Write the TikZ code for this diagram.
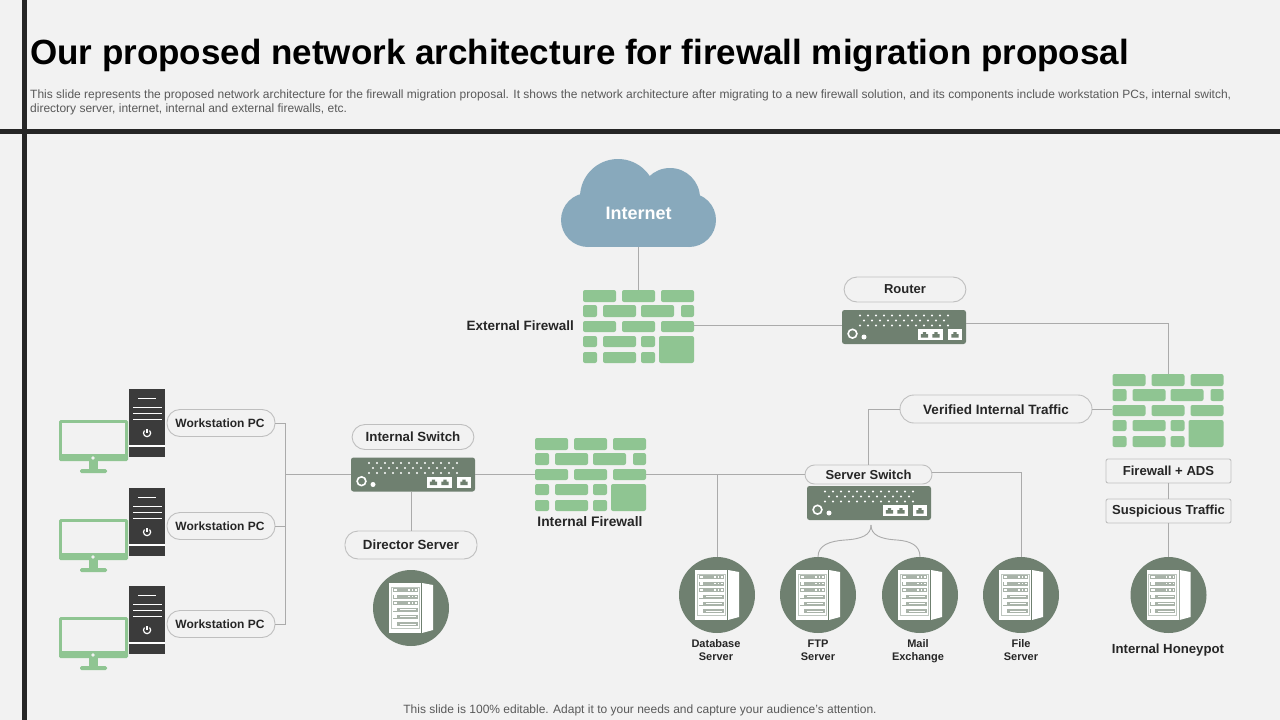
\documentclass[tikz,border=0pt]{standalone}
\usepackage{fontspec}
\setmainfont{Liberation Sans}
\usetikzlibrary{calc}
\definecolor{bgc}{HTML}{F2F2F2}
\definecolor{barc}{HTML}{262626}
\definecolor{wallg}{HTML}{8FC592}
\definecolor{swc}{HTML}{6F8070}
\definecolor{cloudc}{HTML}{88A9BC}
\definecolor{linec}{HTML}{ABABAB}
\definecolor{pillc}{HTML}{BFBFBF}
\definecolor{towerc}{HTML}{3B3B3B}
\definecolor{txtc}{HTML}{262626}
\definecolor{subc}{HTML}{595959}
\newcommand{\fsz}[1]{\fontsize{#1}{#1}\selectfont}
\newcommand{\brk}[4]{\fill[wallg,rounded corners=2pt] (#1,#2) rectangle (#3,#4);}
\tikzset{
  x=1pt,y=-1pt,
  conn/.style={draw=linec,line width=0.9pt},
  pill/.style={draw=pillc,fill=bgc,line width=0.9pt,rounded corners=13pt,font=\fsz{13.3}\bfseries,text=txtc,inner sep=0pt,anchor=center},
  tag/.style={draw=pillc,fill=bgc,line width=0.9pt,rounded corners=2pt,font=\fsz{13.1}\bfseries,text=txtc,inner sep=0pt,minimum width=125pt,minimum height=24pt},
  lbl/.style={font=\fsz{13.5}\bfseries,text=txtc,inner sep=0pt,align=center},
  lblsm/.style={font=\fsz{11}\bfseries,text=txtc,inner sep=0pt,align=center},
  firewall/.pic={
    \brk{0}{0}{33}{12}\brk{39}{0}{72}{12}\brk{78}{0}{111}{12}
    \brk{0}{15}{14}{27}\brk{20}{15}{53}{27}\brk{58}{15}{91}{27}\brk{98}{15}{111}{27}
    \brk{0}{31}{33}{42}\brk{39}{31}{72}{42}\brk{78}{31}{111}{42}
    \brk{0}{46}{14}{57}\brk{20}{46}{53}{57}\brk{58}{46}{72}{57}\brk{76}{46}{111}{73}
    \brk{0}{62}{14}{73}\brk{20}{62}{53}{73}\brk{58}{62}{72}{73}
    \node[inner sep=0pt,minimum width=111pt,minimum height=73pt] (-box) at (55.5,36.5) {};
  },
  netswitch/.pic={
    \node[fill=swc,rounded corners=2.5pt,inner sep=0pt,minimum width=124pt,minimum height=34pt] (-box) at (62,17) {};
    \foreach \i in {0,...,11} {
      \fill[white] (18+\i*8,5.5) circle (1.1);
      \fill[white] (18+\i*8,15.5) circle (1.1);
    }
    \foreach \i in {0,...,10} \fill[white] (22+\i*8,10.5) circle (1.1);
    \draw[white,line width=1.6pt] (10.5,23.7) circle (4.4);
    \fill[white] (22,27) circle (2.5);
    \fill[white] (76,19) rectangle (101,30);
    \fill[white] (106,19) rectangle (120,30);
    \foreach \p in {82.5,94,113} {
      \fill[swc] (\p-3.6,27.5) -- (\p-3.6,24) -- (\p-1.6,24) -- (\p-1.6,22) -- (\p+1.6,22) -- (\p+1.6,24) -- (\p+3.6,24) -- (\p+3.6,27.5) -- cycle;
    }
  },
  serverdisc/.pic={
    \node[circle,fill=swc,inner sep=0pt,minimum size=76pt] (-c) at (0,0) {};
    \fill[white] (-22,-25) rectangle (10,25);
    \fill[white] (11,-25) -- (22,-23) -- (22,22) -- (11,25) -- cycle;
    \fill[swc!45] (-20.5,-21.5) rectangle (8.5,20.5);
    \fill[white] (-19.5,-20.5) rectangle (7.5,19.5);
    \foreach \r in {-18,-11.5,-5,1.5,8.5,16} {
      \fill[swc!60] (-18.5,\r-2) rectangle (6.5,\r+2);
    }
    \foreach \r in {-18,-11.5,-5} {
      \fill[white] (-17.5,\r-1.2) rectangle (-14,\r+1.2);
      \foreach \d in {-2,1.5,5} \fill[white] (\d-0.9,\r-0.9) rectangle (\d+0.9,\r+0.9);
    }
    \foreach \r in {1.5,8.5,16} {
      \fill[white] (-18,\r-1.7) rectangle (-14,\r+1.7);
      \fill[white] (-11,\r-0.5) rectangle (5,\r+0.5);
    }
  },
  workstation/.pic={
    \fill[towerc] (0,0) rectangle (36,68);
    \draw[white,line width=0.9pt] (9,9) -- (27,9);
    \draw[white,line width=0.9pt] (4,18) -- (33,18);
    \draw[white,line width=0.9pt] (4,24) -- (33,24);
    \draw[white,line width=0.9pt] (4,30) -- (33,30);
    \draw[white,line width=1.2pt] (15.5,41.5) arc[start angle=225,end angle=-45,radius=3.6];
    \draw[white,line width=1.2pt] (18,40) -- (18,44);
    \draw[white,line width=1.6pt] (0,57) -- (36,57);
    \fill[wallg,rounded corners=1.5pt] (-70,31) rectangle (-1,72);
    \fill[bgc] (-67,34) rectangle (-4,65);
    \fill[bgc] (-36,69) circle (1.8);
    \fill[wallg] (-40,72) rectangle (-31,81);
    \fill[wallg,rounded corners=1.5pt] (-49,80) rectangle (-22,84);
  }
}
\begin{document}
\begin{tikzpicture}[x=1pt,y=-1pt]
\useasboundingbox (0,0) rectangle (1280,720);
\fill[bgc] (0,0) rectangle (1280,720);
\fill[barc] (22,0) rectangle (27,720);
\fill[barc] (0,128.5) rectangle (1280,133.5);

\node[anchor=west,inner sep=0pt,font=\fsz{35}\bfseries,text=black] (title) at (30,55.5) {Our proposed network architecture for firewall migration proposal};
\node[anchor=north west,inner sep=0pt,font=\fontsize{12}{14}\selectfont,text=subc,align=left] (sub) at (30,89.5) {This slide represents the proposed network architecture for the firewall migration proposal. It shows the network architecture after migrating to a new firewall solution, and its components include workstation PCs, internal switch,\\directory server, internet, internal and external firewalls, etc.};
\node[inner sep=0pt,font=\fsz{12},text=subc] (foot) at (640,710) {This slide is 100\% editable. Adapt it to your needs and capture your audience's attention.};

\fill[cloudc] (588,220) circle (27);
\fill[cloudc] (689,220) circle (27);
\fill[cloudc] (618,197) circle (38);
\fill[cloudc] (670,198) circle (30);
\fill[cloudc] (588,200) rectangle (689,247);
\node[inner sep=0pt,minimum width=155pt,minimum height=68pt,font=\fsz{18}\bfseries,text=white] (internet) at (638.5,213) {Internet};

\pic (fe) at (583,290) {firewall};
\pic (fi) at (535,438) {firewall};
\pic (fa) at (1112.5,374) {firewall};
\pic (rsw) at (842,310) {netswitch};
\pic (isw) at (351,457.5) {netswitch};
\pic (ssw) at (807,486) {netswitch};
\pic (dir) at (411,608) {serverdisc};
\pic (db) at (717,595) {serverdisc};
\pic (ftp) at (818,595) {serverdisc};
\pic (mail) at (920,595) {serverdisc};
\pic (file) at (1021,595) {serverdisc};
\pic (hon) at (1168.5,595) {serverdisc};
\pic (ws1) at (129,389) {workstation};
\pic (ws2) at (129,488) {workstation};
\pic (ws3) at (129,586) {workstation};

\tikzset{wptext/.style={pill,font=\fsz{12}\bfseries,minimum width=108pt,minimum height=27pt,text depth=2pt,text height=10pt}}
\node[wptext] (wp1) at (221,423) {\hspace{-2pt}Workstation PC};
\node[wptext] (wp2) at (221,526) {\hspace{-2pt}Workstation PC};
\node[wptext] (wp3) at (221,624) {\hspace{-2pt}Workstation PC};
\node[pill,minimum width=122pt,minimum height=25pt] (ip) at (413,437) {Internal Switch};
\node[pill,minimum width=132pt,minimum height=28pt] (dp) at (411,545) {Director Server};
\node[pill,font=\fsz{13}\bfseries,minimum width=122pt,minimum height=25pt] (rp) at (905,289.5) {Router};
\node[pill,font=\fsz{13}\bfseries,minimum width=127pt,minimum height=19pt,rounded corners=9.5pt] (sp) at (868.5,474.5) {Server Switch};
\node[pill,font=\fsz{13.5}\bfseries,minimum width=192pt,minimum height=28pt,rounded corners=14pt,text depth=0pt,text height=11pt] (vp) at (996,409) {Verified Internal Traffic};
\node[tag] (ads) at (1168.5,471) {Firewall + ADS};
\node[tag] (sus) at (1168.5,511) {Suspicious Traffic};

\node[lbl,anchor=east] (lfe) at (574,326) {External Firewall};
\node[lbl,font=\fsz{13.8}\bfseries] (lfi) at (590,522) {Internal Firewall};
\node[lbl,font=\fsz{13.2}\bfseries] (lhon) at (1168,650) {Internal Honeypot};
\node[lblsm] (ldb) at (716,650) {Database\\[2pt]Server};
\node[lblsm] (lftp) at (818,650) {FTP\\[2pt]Server};
\node[lblsm] (lmail) at (918,650.8) {Mail\\[2pt]Exchange};
\node[lblsm] (lfile) at (1021,650) {File\\[2pt]Server};

\coordinate (bus) at (285,474.5);
\coordinate (tip) at (871,525);
\coordinate (brL) at (845,540);
\coordinate (brR) at (897,540);
\draw[conn] (internet.south) -- (fe-box.north);
\draw[conn] ([yshift=1.5pt]fe-box.east) -- ([yshift=1.5pt]fe-box.east -| rsw-box.west);
\draw[conn] ([yshift=4pt]rsw-box.east) -| (fa-box.north);
\draw[conn] (wp1.east) -| (bus);
\draw[conn] (wp2.east) -- (wp2.east -| bus);
\draw[conn] (wp3.east) -| (bus);
\draw[conn] (bus) -- (isw-box.west);
\draw[conn] (isw-box.east) -- (fi-box.west);
\draw[conn] (fi-box.east) -- (sp.west);
\draw[conn] (fi-box.east -| db-c.north) -- (db-c.north);
\draw[conn] ([yshift=2.5pt]sp.east) -| (file-c.north);
\draw[conn] (sp.north) |- (vp.west);
\draw[conn] (vp.east) -- (vp.east -| fa-box.west);
\draw[conn] (isw-box.south -| dp.north) -- (dp.north);
\draw[conn] (ads.south) -- (sus.north);
\draw[conn] (sus.south) -- (hon-c.north);
\draw[conn] (tip) .. controls (871,535) and (862,539) .. (brL) .. controls (830,541) and (818,545) .. (ftp-c.north);
\draw[conn] (tip) .. controls (871,535) and (880,539) .. (brR) .. controls (910,541) and (920,545) .. (mail-c.north);
\end{tikzpicture}
\end{document}
